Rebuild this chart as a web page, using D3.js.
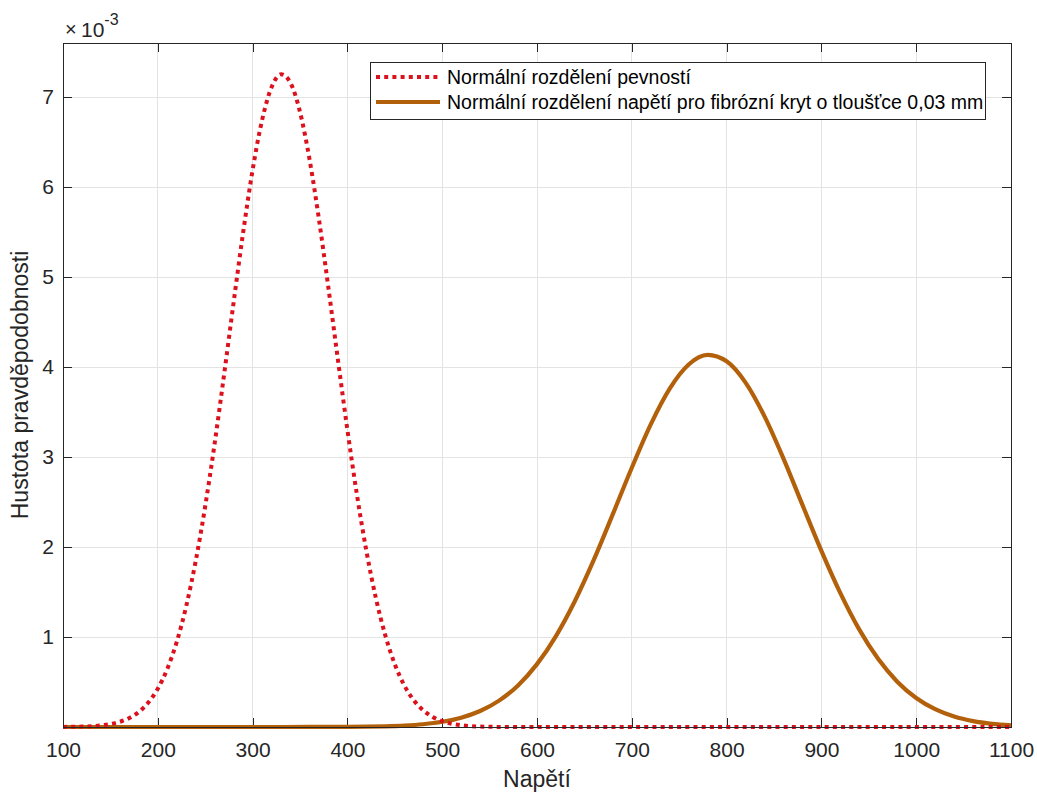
<!DOCTYPE html>
<html>
<head>
<meta charset="utf-8">
<script src="https://cdn.jsdelivr.net/npm/d3@7"></script>
<style>
  html, body { margin: 0; padding: 0; background: #fff; }
  svg { display: block; font-family: "Liberation Sans", Arial, Helvetica, sans-serif; }
</style>
</head>
<body>
<svg id="chart" width="1037" height="794"></svg>
<script>
// ---- data (y values in units of 10^-3) ----
const xTicks = [100, 200, 300, 400, 500, 600, 700, 800, 900, 1000, 1100];
const yTicks = [1, 2, 3, 4, 5, 6, 7];

const strengthX = [100, 110, 120, 130, 140, 150, 160, 170, 180, 190, 200, 210, 220, 230, 240, 250, 260, 270, 280, 290,
                   300, 310, 320, 330, 340, 350, 360, 370, 380, 390, 400, 410, 420, 430, 440, 450, 460, 470, 480, 490,
                   500, 510, 520, 530, 540, 550, 560, 600, 700, 800, 900, 1000, 1100];
const strengthY = [0.0011, 0.0023, 0.0046, 0.0091, 0.0175, 0.0323, 0.0577, 0.1000, 0.1673, 0.2712,
                   0.4252, 0.6449, 0.9464, 1.343, 1.845, 2.452, 3.153, 3.921, 4.719, 5.493,
                   6.188, 6.743, 7.109, 7.252, 7.156, 6.833, 6.311, 5.641, 4.877, 4.080,
                   3.302, 2.585, 1.958, 1.435, 1.018, 0.698, 0.463, 0.298, 0.185, 0.111,
                   0.065, 0.036, 0.020, 0.010, 0.005, 0.003, 0.001, 0, 0, 0, 0, 0, 0];

const stressX = [100, 200, 300, 360, 380, 400, 420, 440, 460, 480, 500, 520, 540, 560, 580, 600, 620, 640, 660, 680,
                 700, 720, 740, 760, 780, 800, 820, 840, 860, 880, 900, 920, 940, 960, 980, 1000, 1020, 1040, 1060, 1080, 1100];
const stressY = [0, 0, 0, 0.0003, 0.0007, 0.0016, 0.0036, 0.0077, 0.0158, 0.0309, 0.0578, 0.1036, 0.1781, 0.2931, 0.4622,
                 0.6983, 1.0104, 1.400, 1.859, 2.365, 2.881, 3.363, 3.760, 4.028, 4.134, 4.063, 3.826, 3.451, 2.982,
                 2.468, 1.957, 1.487, 1.082, 0.7545, 0.5035, 0.3221, 0.1974, 0.1159, 0.0652, 0.0351, 0.0181];

const seriesNames = ["Normální rozdělení pevností",
                     "Normální rozdělení napětí pro fibrózní kryt o tloušťce 0,03 mm"];
const xLabel = "Napětí";
const yLabel = "Hustota pravděpodobnosti";

// ---- layout ----
const L = 63, R = 1011, T = 43, B = 727;
const svg = d3.select("#chart");
const x = d3.scaleLinear().domain([100, 1100]).range([L, R]);
const y = d3.scaleLinear().domain([0, 7.6]).range([B, T]);
const axisColor = "#262626";
const gridColor = "#e3e3e3";
const redColor = "#dc111e";
const brownColor = "#b3600b";
const FONT = "'Liberation Sans', Arial, Helvetica, sans-serif";

svg.append("rect").attr("x", 0).attr("y", 0).attr("width", 1037).attr("height", 794).attr("fill", "#fff");

// grid
const grid = svg.append("g").attr("shape-rendering", "crispEdges");
grid.selectAll(".gx").data(xTicks.slice(1, -1)).join("line")
  .attr("x1", d => x(d)).attr("x2", d => x(d)).attr("y1", T).attr("y2", B)
  .attr("stroke", gridColor).attr("stroke-width", 1);
grid.selectAll(".gy").data(yTicks).join("line")
  .attr("x1", L).attr("x2", R).attr("y1", d => y(d)).attr("y2", d => y(d))
  .attr("stroke", gridColor).attr("stroke-width", 1);

// axes via d3 axes (inward ticks)
const tickLen = 9;
const fmt = d3.format("d");
const xAxisB = d3.axisBottom(x).tickValues(xTicks).tickFormat(fmt).tickSizeInner(-tickLen).tickSizeOuter(0).tickPadding(15);
const xAxisT = d3.axisTop(x).tickValues(xTicks).tickSizeInner(-tickLen).tickSizeOuter(0).tickFormat("");
const yAxisL = d3.axisLeft(y).tickValues(yTicks).tickFormat(fmt).tickSizeInner(-tickLen).tickSizeOuter(0).tickPadding(9);
const yAxisR = d3.axisRight(y).tickValues(yTicks).tickSizeInner(-tickLen).tickSizeOuter(0).tickFormat("");

function styleAxis(g) {
  g.attr("font-size", null).attr("font-family", null);
  g.select(".domain").remove();
  g.selectAll(".tick line").attr("stroke", axisColor).attr("shape-rendering", "crispEdges");
  g.selectAll(".tick text").attr("fill", axisColor)
    .style("font-size", "21px").style("font-family", FONT);
}
svg.append("g").attr("transform", `translate(0,${B})`).call(xAxisB).call(styleAxis);
svg.append("g").attr("transform", `translate(0,${T})`).call(xAxisT).call(styleAxis);
svg.append("g").attr("transform", `translate(${L},0)`).call(yAxisL).call(styleAxis);
svg.append("g").attr("transform", `translate(${R},0)`).call(yAxisR).call(styleAxis);

// lines
const line = d3.line().x(d => x(d[0])).y(d => y(d[1])).curve(d3.curveMonotoneX);
svg.append("path").datum(stressX.map((v, i) => [v, stressY[i]]))
  .attr("d", line).attr("fill", "none").attr("stroke", brownColor).attr("stroke-width", 4.2)
  .attr("stroke-linejoin", "round");
svg.append("path").datum(strengthX.map((v, i) => [v, strengthY[i]]))
  .attr("d", line).attr("fill", "none").attr("stroke", redColor).attr("stroke-width", 4)
  .attr("stroke-dasharray", "4 4.2");

// box
svg.append("rect").attr("x", L).attr("y", T).attr("width", R - L).attr("height", B - T)
  .attr("fill", "none").attr("stroke", axisColor).attr("stroke-width", 1).attr("shape-rendering", "crispEdges");

// exponent label
svg.append("text").attr("x", 65).attr("y", 36).attr("fill", axisColor)
  .style("font-size", "20px").style("font-family", FONT).text("×");
const expT = svg.append("text").attr("x", 81).attr("y", 37).attr("fill", axisColor)
  .style("font-size", "21px").style("font-family", FONT);
expT.append("tspan").text("10");
expT.append("tspan").attr("dy", -12).style("font-size", "16px").text("-3");

// axis labels
svg.append("text").attr("x", (L + R) / 2).attr("y", 787).attr("text-anchor", "middle")
  .style("font-size", "23px").style("font-family", FONT).attr("fill", axisColor).text(xLabel);
svg.append("text").attr("transform", `translate(28,${(T + B) / 2}) rotate(-90)`).attr("text-anchor", "middle")
  .style("font-size", "23px").style("font-family", FONT).attr("fill", axisColor).text(yLabel);

// legend
const lg = svg.append("g");
lg.append("rect").attr("x", 370).attr("y", 62).attr("width", 615).attr("height", 57)
  .attr("fill", "#fff").attr("stroke", axisColor).attr("stroke-width", 1).attr("shape-rendering", "crispEdges");
const legendItems = [
  { name: seriesNames[0], color: redColor, dash: "4 4.2", w: 4, yy: 77 },
  { name: seriesNames[1], color: brownColor, dash: null, w: 4.2, yy: 102 }
];
legendItems.forEach(it => {
  const ln = lg.append("line").attr("x1", 376).attr("x2", 440).attr("y1", it.yy).attr("y2", it.yy)
    .attr("stroke", it.color).attr("stroke-width", it.w);
  if (it.dash) ln.attr("stroke-dasharray", it.dash);
  lg.append("text").attr("x", 447).attr("y", it.yy).attr("dy", "0.35em")
    .style("font-size", "19.5px").style("font-family", FONT)
    .attr("fill", "#000").text(it.name);
});
</script>
</body>
</html>
